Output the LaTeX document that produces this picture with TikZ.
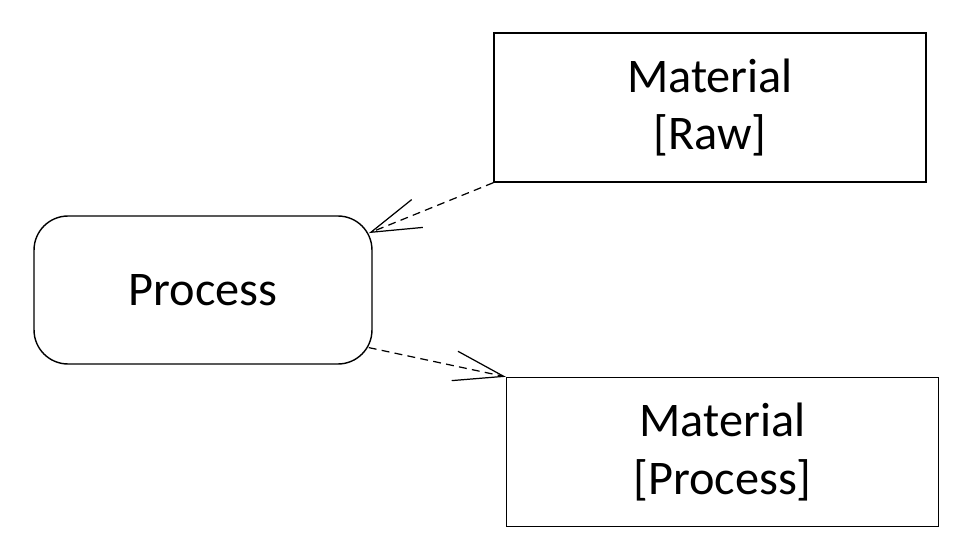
\documentclass[tikz,border=0pt]{standalone}
\usepackage{fontspec}
\setmainfont{Carlito}
\usetikzlibrary{arrows.meta}

\tikzset{
	matbox/.style = {draw, line width = 0.8pt, minimum width = 8.64cm, minimum height = 2.98cm, inner sep = 0pt, align = center, font = \fontsize{27.5}{32.5}\selectfont},
	procbox/.style = {draw, rounded corners = 0.68cm, line width = 0.8pt, minimum width = 6.76cm, minimum height = 2.96cm, inner sep = 0pt, font = \fontsize{27.5}{32.5}\selectfont},
	flow/.style = {dash pattern = on 4.5pt off 3pt, line width = 0.7pt, -{Straight Barb[length = 1cm, width = 0.6cm]}}
}

\begin{document}
\begin{tikzpicture}[x = 0.02cm, y = -0.02cm]
		\useasboundingbox (0, 0) rectangle (961, 555);
		%%%%%%%%%%%%%
		\node[procbox] (proc) at (203, 290) {Process};
		\node[matbox] (raw) at (710, 107.5) {Material\\{[Raw]}};
		\node[matbox] (mproc) at (722.5, 452) {Material\\{[Process]}};
		%%%%%%%%%%%%%
		\draw[flow, shorten > = -0.08cm] (raw.south west) to (proc.19);
		\draw[flow, shorten < = -0.08cm] (proc.-19) to (mproc.north west);
\end{tikzpicture}
\end{document}
